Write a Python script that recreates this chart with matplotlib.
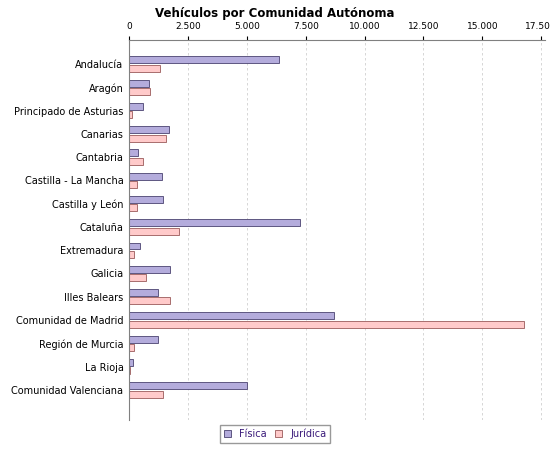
import matplotlib
matplotlib.use("Agg")
import matplotlib.pyplot as plt
import numpy as np
from matplotlib.ticker import FuncFormatter

regions = ["Andalucía", "Aragón", "Principado de Asturias", "Canarias", "Cantabria",
           "Castilla - La Mancha", "Castilla y León", "Cataluña", "Extremadura", "Galicia",
           "Illes Balears", "Comunidad de Madrid", "Región de Murcia", "La Rioja",
           "Comunidad Valenciana"]
fisica = [6360, 850, 600, 1700, 380, 1410, 1450, 7260, 470, 1750, 1240, 8700, 1240, 170, 4990]
juridica = [1320, 900, 130, 1580, 600, 340, 340, 2130, 210, 730, 1750, 16770, 210, 40, 1450]

fig = plt.figure(figsize=(5.5, 4.5), dpi=100)
ax = fig.add_axes([0.2345, 0.067, 0.756, 0.844])
y = np.arange(len(regions))
h = 0.3
ax.barh(y - h/2 - 0.03, fisica, height=h, color="#b4acdc", edgecolor="#4a4270", linewidth=0.6, label="Física")
ax.barh(y + h/2 + 0.03, juridica, height=h, color="#ffcaca", edgecolor="#9a5a5a", linewidth=0.6, label="Jurídica")
ax.set_ylim(15.29, -1.03)
ax.set_xlim(0, 17650)
ax.set_xticks(np.arange(0, 17501, 2500))
ax.xaxis.set_major_formatter(FuncFormatter(lambda v, p: f"{int(v):,}".replace(",", ".")))
ax.xaxis.tick_top()
ax.tick_params(axis="x", labelsize=6.5, length=3)
ax.set_yticks(y)
ax.set_yticklabels(regions, fontsize=7)
ax.tick_params(axis="y", length=0, pad=4)
ax.grid(axis="x", linestyle=(0, (3, 3)), color="#d0d0d0", linewidth=0.6)
ax.set_axisbelow(True)
for s in ["right", "bottom"]:
    ax.spines[s].set_visible(False)
ax.spines["top"].set_color("#808080")
ax.spines["left"].set_color("#808080")
fig.text(0.5, 0.985, "Vehículos por Comunidad Autónoma", ha="center", va="top", fontsize=8.5, fontweight="bold")
leg = fig.legend(loc="lower center", bbox_to_anchor=(0.5, 0.005), ncol=2, fontsize=7, frameon=True,
                 fancybox=False, edgecolor="#808080", handlelength=0.8, handleheight=0.8, columnspacing=0.8)
for t in leg.get_texts():
    t.set_color("#3a1a7a")
fig.savefig("out.png", dpi=100, facecolor="white")
